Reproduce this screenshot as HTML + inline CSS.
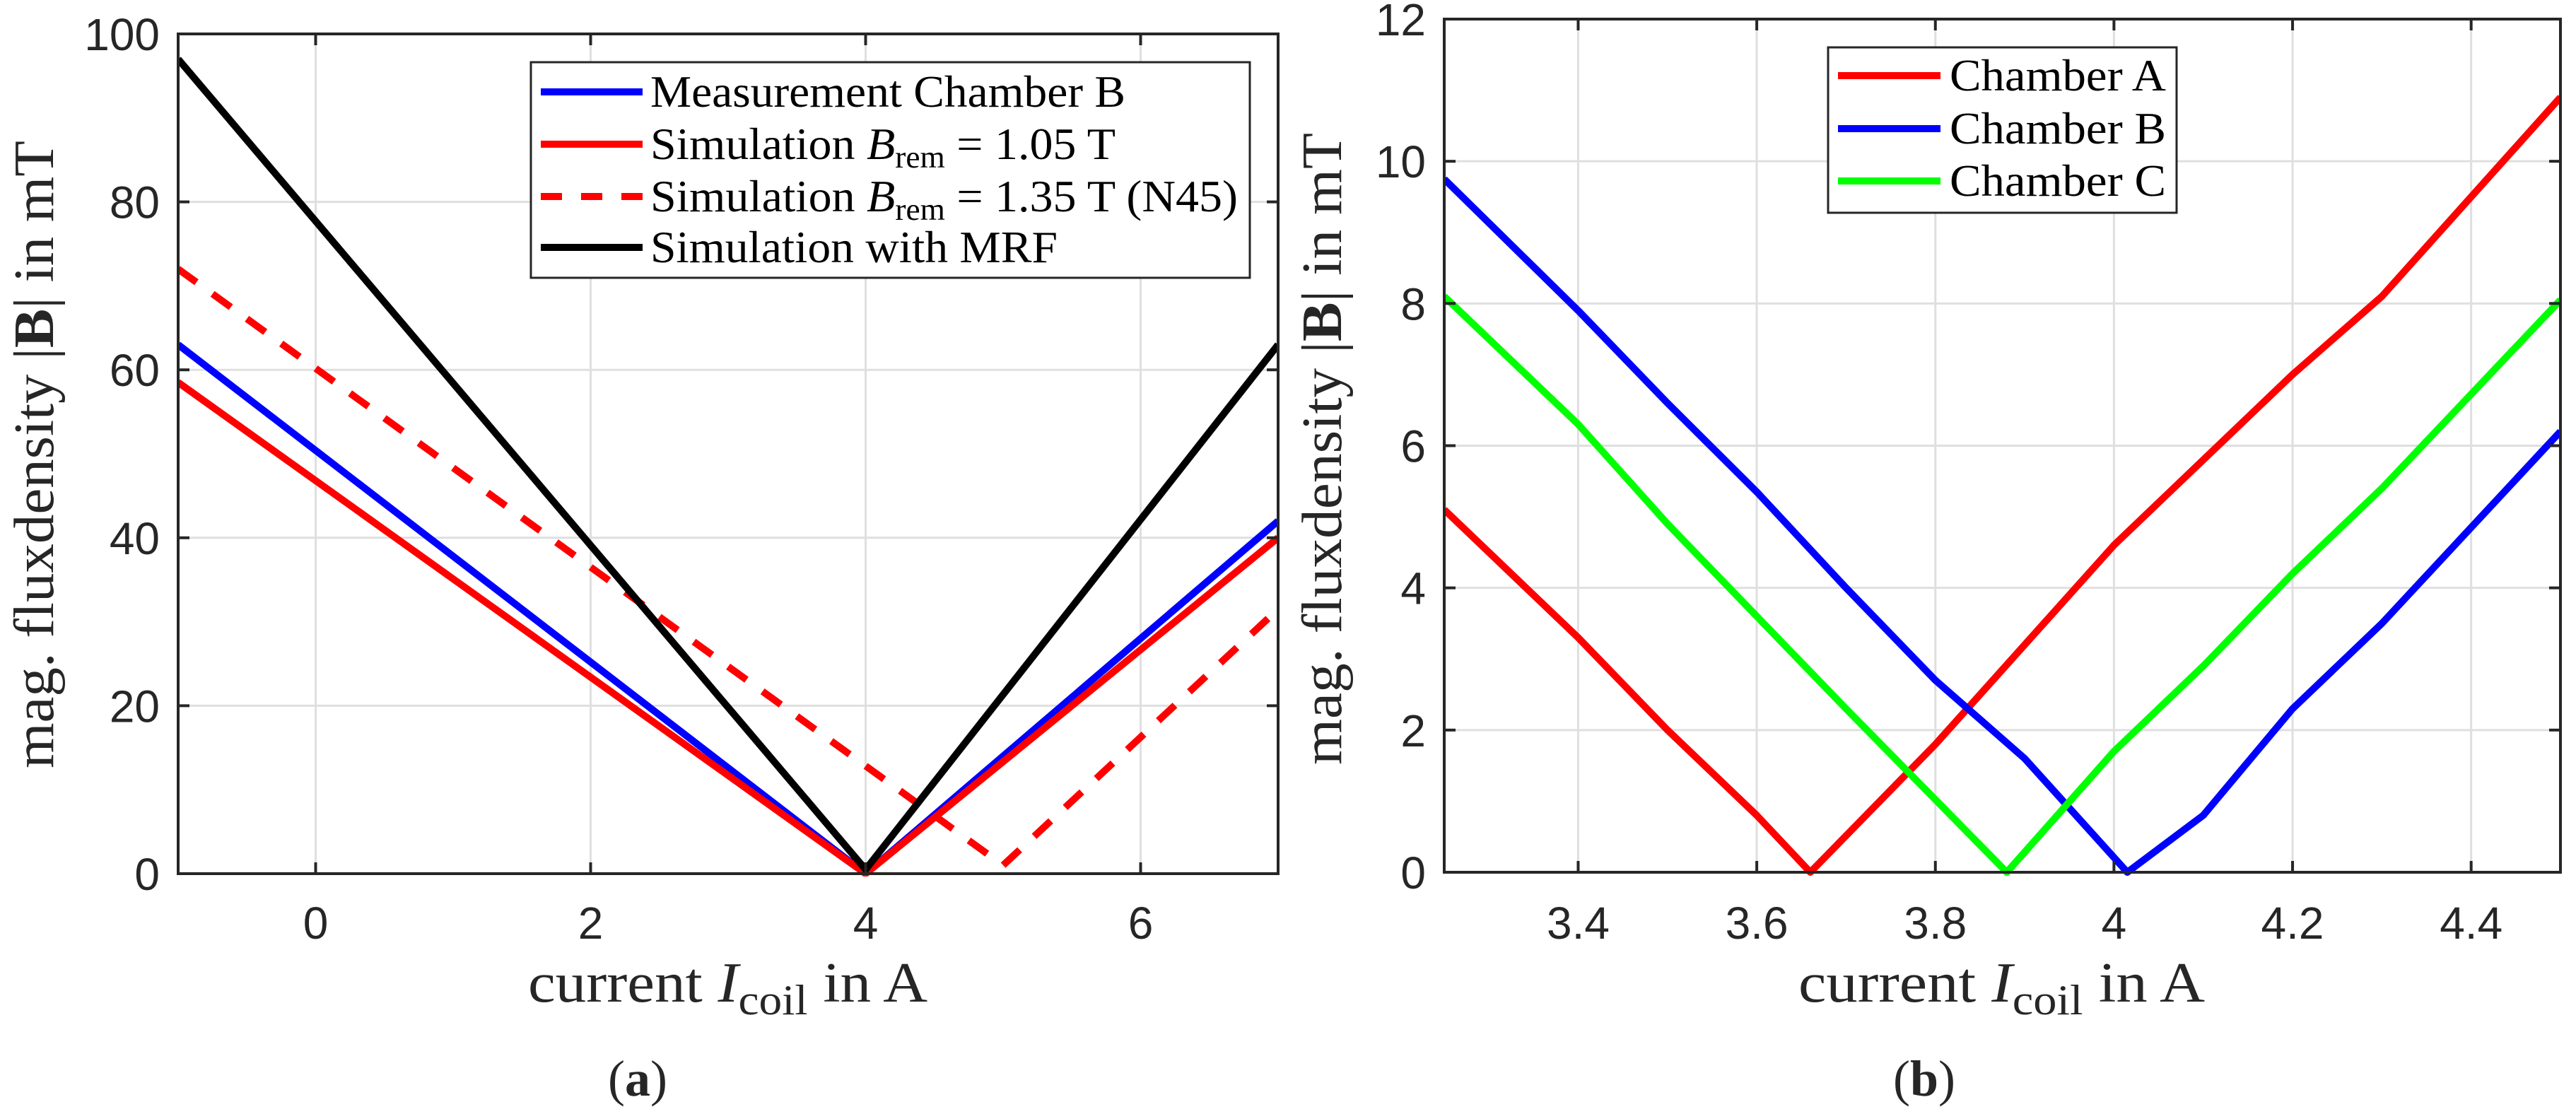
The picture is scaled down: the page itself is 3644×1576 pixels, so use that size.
<!DOCTYPE html>
<html><head><meta charset="utf-8"><style>
html,body{margin:0;padding:0;background:#fff;}
svg{display:block;}
.tick{font-family:"Liberation Sans",sans-serif;font-size:64px;fill:#262626;}
.ser{font-family:"Liberation Serif",serif;fill:#262626;}
.leg{font-family:"Liberation Serif",serif;font-size:64px;fill:#000;}
</style></head><body>
<svg id="fig" width="3644" height="1576" viewBox="0 0 3644 1576" xmlns="http://www.w3.org/2000/svg">
<g id="pa"></g>
<g id="pb"></g>
<text class="ser" x="747" y="1417" font-size="80" textLength="565" lengthAdjust="spacingAndGlyphs">current <tspan font-style="italic">I</tspan><tspan font-size="60" dy="18">coil</tspan><tspan dy="-18"> in A</tspan></text>
<text class="ser" transform="translate(75,1087) rotate(-90)" x="0" y="0" font-size="80" textLength="888" lengthAdjust="spacingAndGlyphs">mag. fluxdensity |<tspan font-weight="bold">B</tspan>| in mT</text>
<text class="ser" x="902" y="1550" font-size="72" text-anchor="middle">(<tspan font-weight="bold">a</tspan>)</text>
<text class="ser" x="2544" y="1417" font-size="80" textLength="575" lengthAdjust="spacingAndGlyphs">current <tspan font-style="italic">I</tspan><tspan font-size="60" dy="18">coil</tspan><tspan dy="-18"> in A</tspan></text>
<text class="ser" transform="translate(1897,1082) rotate(-90)" x="0" y="0" font-size="80" textLength="894" lengthAdjust="spacingAndGlyphs">mag. fluxdensity |<tspan font-weight="bold">B</tspan>| in mT</text>
<text class="ser" x="2722" y="1550" font-size="72" text-anchor="middle">(<tspan font-weight="bold">b</tspan>)</text>
</svg>
<script>
const NS="http://www.w3.org/2000/svg";
// Panel a data
const aXTicks=[0,2,4,6];
const aYTicks=[0,20,40,60,80,100];
const aBlueX=[-1,4,7];        const aBlueY=[63,0,42];
const aRedX=[-1,4,7];         const aRedY=[58.5,0,40];
const aRedDashX=[-1,5,7];     const aRedDashY=[72,1,31.5];
const aBlackX=[-1,4,7];       const aBlackY=[97,0.5,63];
const aLegendLabels=["Measurement Chamber B","Simulation B_rem = 1.05 T","Simulation B_rem = 1.35 T (N45)","Simulation with MRF"];
// Panel b data
const bXTicks=[3.4,3.6,3.8,4,4.2,4.4];
const bYTicks=[0,2,4,6,8,10,12];
const bRedX=[3.25,3.4,3.5,3.6,3.66,3.8,4.0,4.2,4.3,4.5];
const bRedY=[5.1,3.3,2.0,0.8,0,1.8,4.6,7.0,8.1,10.9];
const bBlueX=[3.25,3.4,3.5,3.6,3.7,3.8,3.9,4.015,4.1,4.2,4.3,4.5];
const bBlueY=[9.75,7.9,6.6,5.35,4.0,2.7,1.6,0,0.8,2.3,3.5,6.2];
const bGreenX=[3.25,3.4,3.5,3.6,3.7,3.88,4.0,4.1,4.2,4.3,4.5];
const bGreenY=[8.1,6.3,4.9,3.6,2.3,0,1.7,2.9,4.2,5.4,8.05];
const bLegendLabels=["Chamber A","Chamber B","Chamber C"];

function el(tag,attrs,parent){const e=document.createElementNS(NS,tag);for(const k in attrs)e.setAttribute(k,attrs[k]);parent.appendChild(e);return e;}

function axes(g,L,R,T,B,x0,x1,y0,y1,xt,yt,pfx){
  const sx=v=>L+(v-x0)/(x1-x0)*(R-L);
  const sy=v=>B-(v-y0)/(y1-y0)*(B-T);
  el('rect',{x:L,y:T,width:R-L,height:B-T,fill:'#fff'},g);
  xt.forEach(v=>{
    const l=el('line',{x1:sx(v),x2:sx(v),y1:T,y2:B,stroke:'#dfdfdf','stroke-width':3},g);
    
    
  });
  yt.forEach(v=>{
    const l=el('line',{x1:L,x2:R,y1:sy(v),y2:sy(v),stroke:'#dfdfdf','stroke-width':3},g);
    
    
  });
  return {sx,sy};
}
function frame(g,L,R,T,B,xt,yt,sx,sy,pfx){
  const r=el('rect',{x:L,y:T,width:R-L,height:B-T,fill:'none',stroke:'#262626','stroke-width':4},g);
  
  
  xt.forEach(v=>{
    el('line',{x1:sx(v),x2:sx(v),y1:B,y2:B-16,stroke:'#262626','stroke-width':4},g);
    el('line',{x1:sx(v),x2:sx(v),y1:T,y2:T+16,stroke:'#262626','stroke-width':4},g);
    const t=el('text',{x:sx(v),y:1328,'text-anchor':'middle',class:'tick'},g);
    t.textContent=String(v);
    
    
  });
  yt.forEach(v=>{
    el('line',{x1:L,x2:L+16,y1:sy(v),y2:sy(v),stroke:'#262626','stroke-width':4},g);
    el('line',{x1:R,x2:R-16,y1:sy(v),y2:sy(v),stroke:'#262626','stroke-width':4},g);
    const t=el('text',{x:L-26,y:sy(v)+23,'text-anchor':'end',class:'tick'},g);
    t.textContent=String(v);
    
    
  });
}
function series(g,xs,ys,sx,sy,color,dash,name){
  const d=xs.map((x,i)=>(i?'L':'M')+sx(x).toFixed(1)+','+sy(ys[i]).toFixed(1)).join(' ');
  const p=el('path',{d:d,fill:'none',stroke:color,'stroke-width':10,'stroke-linejoin':'round','stroke-linecap':'butt'},g);
  if(dash)p.setAttribute('stroke-dasharray','32,28');
  
  
}
function legendText(t,label){
  const m=label.match(/^(Simulation) B_rem (.*)$/);
  if(m){
    t.appendChild(document.createTextNode('Simulation '));
    const b=el('tspan',{'font-style':'italic'},t);b.textContent='B';
    const s=el('tspan',{'font-size':'44',dy:'12'},t);s.textContent='rem';
    const r=el('tspan',{dy:'-12'},t);r.textContent=' '+m[2];
  } else t.textContent=label;
}

// Panel a
const ga=document.getElementById('pa');
const A=axes(ga,252,1808,48,1236,-1,7,0,100,aXTicks,aYTicks,'a-');
const clipA=el('clipPath',{id:'ca'},ga);el('rect',{x:252,y:48,width:1556,height:1192},clipA);
const sga=el('g',{'clip-path':'url(#ca)'},ga);
series(sga,aBlueX,aBlueY,A.sx,A.sy,'#0000ff',false,'series-measurement-chamber-b');
series(sga,aRedX,aRedY,A.sx,A.sy,'#ff0000',false,'series-simulation-1-05t');
series(sga,aRedDashX,aRedDashY,A.sx,A.sy,'#ff0000',true,'series-simulation-1-35t');
series(sga,aBlackX,aBlackY,A.sx,A.sy,'#000000',false,'series-simulation-mrf');
frame(ga,252,1808,48,1236,aXTicks,aYTicks,A.sx,A.sy,'a-');
const lga=el('g',{},ga);


el('rect',{x:751,y:88,width:1017,height:305,fill:'#fff',stroke:'#262626','stroke-width':3},lga);
const aCols=['#0000ff','#ff0000','#ff0000','#000000'];
const aRows=[130,204,278,350];
const aLens=[672,658,831,576];
aLegendLabels.forEach((lab,i)=>{
  const ln=el('line',{x1:765,x2:909,y1:aRows[i],y2:aRows[i],stroke:aCols[i],'stroke-width':10},lga);
  if(i===2)ln.setAttribute('stroke-dasharray','30,27');
  
  
  const t=el('text',{x:920,y:aRows[i]+21,class:'leg',textLength:aLens[i],lengthAdjust:'spacingAndGlyphs'},lga);
  legendText(t,lab);
  
  
});

// Panel b
const gb=document.getElementById('pb');
const Bx=axes(gb,2043,3622,27,1234,3.25,4.5,0,12,bXTicks,bYTicks,'b-');
const clipB=el('clipPath',{id:'cb'},gb);el('rect',{x:2043,y:27,width:1579,height:1212},clipB);
const sgb=el('g',{'clip-path':'url(#cb)'},gb);
series(sgb,bRedX,bRedY,Bx.sx,Bx.sy,'#ff0000',false,'series-chamber-a');
series(sgb,bBlueX,bBlueY,Bx.sx,Bx.sy,'#0000ff',false,'series-chamber-b');
series(sgb,bGreenX,bGreenY,Bx.sx,Bx.sy,'#00ff00',false,'series-chamber-c');
frame(gb,2043,3622,27,1234,bXTicks,bYTicks,Bx.sx,Bx.sy,'b-');
const lgb=el('g',{},gb);


el('rect',{x:2586,y:67,width:493,height:234,fill:'#fff',stroke:'#262626','stroke-width':3},lgb);
const bCols=['#ff0000','#0000ff','#00ff00'];
const bRows=[107,182,256];
bLegendLabels.forEach((lab,i)=>{
  const ln=el('line',{x1:2600,x2:2745,y1:bRows[i],y2:bRows[i],stroke:bCols[i],'stroke-width':10},lgb);
  
  
  const t=el('text',{x:2758,y:bRows[i]+21,class:'leg',textLength:306,lengthAdjust:'spacingAndGlyphs'},lgb);
  t.textContent=lab;
  
  
});
</script>
</body></html>
